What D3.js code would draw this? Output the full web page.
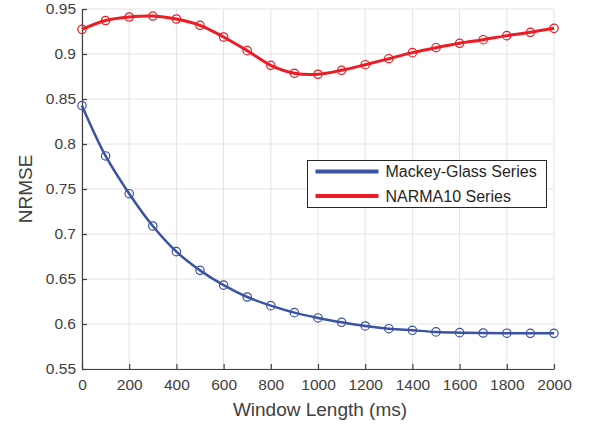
<!DOCTYPE html>
<html>
<head>
<meta charset="utf-8">
<script src="https://cdn.jsdelivr.net/npm/d3@7"></script>
<style>
  body { margin: 0; background: #fff; }
  svg { font-family: "Liberation Sans", Arial, sans-serif; }
</style>
</head>
<body>
<svg id="chart" width="592" height="426"></svg>
<script>
// window lengths (ms)
var windowLen = [0, 100, 200, 300, 400, 500, 600, 700, 800, 900, 1000,
  1100, 1200, 1300, 1400, 1500, 1600, 1700, 1800, 1900, 2000];
// NRMSE per series
var mackeyGlass = [0.8426, 0.7867, 0.7448, 0.7089, 0.6804, 0.6596, 0.6432, 0.6300, 0.6204,
  0.6126, 0.6067, 0.6019, 0.5978, 0.5948, 0.5930, 0.5912, 0.5904, 0.5900, 0.5898, 0.5896, 0.5896];
var narma10 = [0.9274, 0.9372, 0.9411, 0.9422, 0.9389, 0.9319, 0.9189, 0.9037, 0.8874,
  0.8786, 0.8775, 0.8819, 0.8881, 0.8948, 0.9015, 0.9070, 0.9119, 0.9159, 0.9204, 0.9241, 0.9285];
var xTicks = [0, 200, 400, 600, 800, 1000, 1200, 1400, 1600, 1800, 2000];
var yTicks = [0.55, 0.6, 0.65, 0.7, 0.75, 0.8, 0.85, 0.9, 0.95];
var seriesNames = ["Mackey-Glass Series", "NARMA10 Series"];

var margin = {top: 9, right: 38, bottom: 57, left: 82};
var width = 592 - margin.left - margin.right;
var height = 426 - margin.top - margin.bottom;

var svg = d3.select("#chart");
var g = svg.append("g").attr("transform", "translate(" + margin.left + "," + margin.top + ")");

var x = d3.scaleLinear().domain([0, 2000]).range([0, width]);
var y = d3.scaleLinear().domain([0.55, 0.95]).range([height, 0]);

// grid
g.append("g").selectAll("line").data(xTicks).enter().append("line")
  .attr("x1", function (d) { return x(d); }).attr("x2", function (d) { return x(d); })
  .attr("y1", 0).attr("y2", height)
  .attr("stroke", "#e3e3e3").attr("stroke-width", 1);
g.append("g").selectAll("line").data(yTicks).enter().append("line")
  .attr("x1", 0).attr("x2", width)
  .attr("y1", function (d) { return y(d); }).attr("y2", function (d) { return y(d); })
  .attr("stroke", "#e3e3e3").attr("stroke-width", 1);

// axes
var xAxis = g.append("g").attr("transform", "translate(0," + height + ")")
  .call(d3.axisBottom(x).tickValues(xTicks).tickSizeInner(-5).tickSizeOuter(0).tickPadding(10)
    .tickFormat(d3.format("d")));
var yAxis = g.append("g")
  .call(d3.axisLeft(y).tickValues(yTicks).tickSizeInner(-5).tickSizeOuter(0).tickPadding(6)
    .tickFormat(function (d) { return String(+d.toFixed(2)); }));
[xAxis, yAxis].forEach(function (a) {
  a.select(".domain").attr("stroke", "#404040").attr("stroke-width", 1.2);
  a.selectAll(".tick line").attr("stroke", "#404040").attr("stroke-width", 1.2);
  a.selectAll(".tick text").attr("fill", "#404040").attr("font-size", 15.5)
    .attr("font-family", "Liberation Sans, Arial, sans-serif");
});

// labels
svg.append("text").attr("x", 320).attr("y", 416)
  .attr("text-anchor", "middle").attr("fill", "#404040").attr("font-size", 19)
  .text("Window Length (ms)");
svg.append("text").attr("transform", "translate(32," + (margin.top + height / 2) + ") rotate(-90)")
  .attr("text-anchor", "middle").attr("fill", "#404040").attr("font-size", 19)
  .text("NRMSE");

// series
var series = [
  {name: seriesNames[0], values: mackeyGlass, color: "#3a53a4", w: 2.5},
  {name: seriesNames[1], values: narma10, color: "#ec1c24", w: 3}
];
var line = d3.line()
  .x(function (d, i) { return x(windowLen[i]); })
  .y(function (d) { return y(d); })
  .curve(d3.curveCatmullRom.alpha(0.5));

series.forEach(function (s) {
  g.append("path").datum(s.values).attr("d", line)
    .attr("fill", "none").attr("stroke", s.color).attr("stroke-width", s.w);
  g.append("g").selectAll("circle").data(s.values).enter().append("circle")
    .attr("cx", function (d, i) { return x(windowLen[i]); })
    .attr("cy", function (d) { return y(d); })
    .attr("r", 4.2).attr("fill", "none").attr("stroke", s.color).attr("stroke-width", 1.2);
});

// legend
var lg = svg.append("g").attr("transform", "translate(307.5,160.5)");
lg.append("rect").attr("width", 239).attr("height", 47)
  .attr("fill", "#fff").attr("stroke", "#262626").attr("stroke-width", 1);
series.forEach(function (s, i) {
  var yy = 11 + i * 24.5;
  lg.append("line").attr("x1", 8).attr("x2", 71).attr("y1", yy).attr("y2", yy)
    .attr("stroke", s.color).attr("stroke-width", 4);
  lg.append("text").attr("x", 78).attr("y", yy + 5.5).attr("font-size", 16)
    .attr("fill", "#262626").text(s.name);
});
</script>
</body>
</html>
